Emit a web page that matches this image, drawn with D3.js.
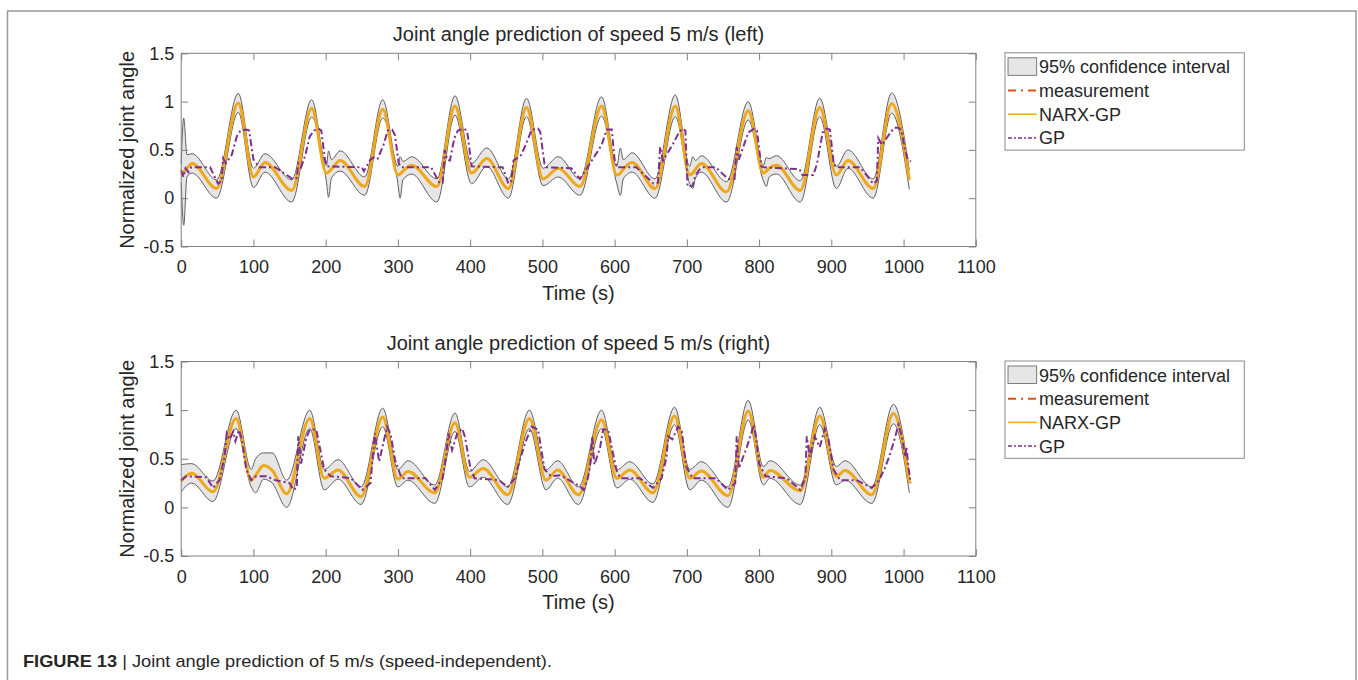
<!DOCTYPE html>
<html>
<head>
<meta charset="utf-8">
<script src="https://cdn.jsdelivr.net/npm/d3@7/dist/d3.min.js"></script>
<style>
  body { margin: 0; background: #fff; }
  svg text { font-family: 'Liberation Sans', Arial, Helvetica, sans-serif; fill: #262626; }
</style>
</head>
<body>
<div id="chart"></div>
<script>
// ---- axis ticks ----
const xTickVals = [0, 100, 200, 300, 400, 500, 600, 700, 800, 900, 1000, 1100];
const yTickVals = [-0.5, 0, 0.5, 1, 1.5];
const legendLabels = ['95% confidence interval', 'measurement', 'NARX-GP', 'GP'];

// ---- left leg: NARX-GP mean and 95% band, read at extrema / spikes ----
const leftT = [0, 3.5, 8, 15, 49, 79, 100, 116, 153, 180.6, 201, 204, 208, 220, 254, 279, 300, 303, 307, 319,
  354, 379, 402, 423, 453, 478, 501, 522, 552, 582, 603, 608, 612, 624, 656, 684, 704, 708, 712, 720,
  755, 785, 806, 810, 814, 824, 857, 884, 907, 923, 958, 983.5, 1008];
const leftNarx = [0.24, 0.27, 0.31, 0.36, 0.1, 0.985, 0.22, 0.37, 0.08, 0.93, 0.26, 0.27, 0.3, 0.39, 0.12, 0.92, 0.24, 0.25, 0.28, 0.34,
  0.12, 0.955, 0.26, 0.41, 0.1, 0.94, 0.2, 0.31, 0.12, 0.955, 0.24, 0.26, 0.3, 0.37, 0.1, 0.955, 0.24, 0.26, 0.3, 0.36,
  0.065, 0.905, 0.26, 0.28, 0.31, 0.34, 0.08, 0.94, 0.24, 0.39, 0.1, 0.98, 0.19];
const leftUpper = [0.36, 0.83, 0.45, 0.46, 0.19, 1.085, 0.31, 0.46, 0.19, 1.02, 0.34, 0.49, 0.4, 0.49, 0.22, 1.02, 0.33, 0.43, 0.38, 0.43,
  0.2, 1.06, 0.36, 0.52, 0.2, 1.035, 0.31, 0.43, 0.2, 1.05, 0.33, 0.52, 0.4, 0.47, 0.2, 1.07, 0.33, 0.43, 0.39, 0.44,
  0.17, 1.0, 0.34, 0.42, 0.41, 0.44, 0.18, 1.035, 0.33, 0.5, 0.2, 1.09, 0.29];
const leftLower = [0.16, -0.28, 0.22, 0.26, 0.0, 0.89, 0.11, 0.27, -0.04, 0.84, 0.17, 0.01, 0.21, 0.28, 0.03, 0.83, 0.15, 0.0, 0.19, 0.25,
  -0.04, 0.86, 0.15, 0.33, 0.0, 0.845, 0.13, 0.22, 0.03, 0.85, 0.15, 0.03, 0.2, 0.27, 0.0, 0.845, 0.15, 0.1, 0.21, 0.27,
  -0.04, 0.81, 0.18, 0.12, 0.22, 0.25, -0.04, 0.845, 0.1, 0.31, 0.0, 0.88, 0.09];
// measurement lies under the NARX-GP line in the picture
const leftMeas = leftNarx;

// ---- left leg: GP ----
const leftGpT = [0, 3, 6, 10, 14, 40, 51, 56, 58, 62, 70, 77, 82, 90, 94, 100, 108, 130, 154, 160, 162, 166, 172, 178, 184, 190, 194, 199, 202,
  250, 253, 262, 268, 272, 280, 286, 292, 296, 301, 305, 346, 358, 362, 365, 368, 372, 378, 383, 392, 396, 402,
  445, 453, 457, 460, 470, 478, 485, 494, 497, 503, 506, 540, 552, 566, 582, 589, 596, 600, 603, 630, 654, 660, 663, 667,
  680, 689, 694, 698, 701, 708, 712, 718, 722, 740, 757, 766, 769, 772, 785, 793, 797, 803, 806, 856, 860, 875, 880, 888,
  893, 898, 903, 906, 940, 958, 963, 965, 970, 980, 987, 993, 997, 1002, 1006, 1010];
const leftGp = [0.29, 0.22, 0.31, 0.27, 0.32, 0.32, 0.15, 0.18, 0.41, 0.36, 0.45, 0.64, 0.7, 0.71, 0.7, 0.4, 0.32, 0.32, 0.2, 0.21, 0.36, 0.32, 0.45, 0.64, 0.7, 0.72, 0.7, 0.4, 0.33,
  0.32, 0.28, 0.4, 0.43, 0.41, 0.55, 0.7, 0.71, 0.65, 0.36, 0.32, 0.32, 0.15, 0.16, 0.5, 0.4, 0.39, 0.62, 0.7, 0.72, 0.69, 0.33,
  0.32, 0.15, 0.18, 0.39, 0.44, 0.57, 0.71, 0.72, 0.69, 0.35, 0.32, 0.31, 0.2, 0.36, 0.55, 0.71, 0.71, 0.4, 0.32, 0.32, 0.15, 0.16, 0.53, 0.39,
  0.55, 0.68, 0.72, 0.7, 0.12, 0.13, 0.24, 0.3, 0.32, 0.32, 0.2, 0.2, 0.53, 0.4, 0.68, 0.72, 0.7, 0.33, 0.32, 0.3, 0.24, 0.24, 0.35, 0.68,
  0.72, 0.71, 0.38, 0.32, 0.32, 0.15, 0.18, 0.62, 0.55, 0.66, 0.73, 0.73, 0.7, 0.5, 0.4, 0.38];

// ---- right leg: NARX-GP mean and 95% band ----
const rightT = [0, 14.5, 44, 76, 97, 103, 114, 126, 146, 178, 198, 217, 249, 279, 300, 314, 351, 379, 399, 418,
  452, 482, 505, 521, 550, 582, 603, 621, 653, 683, 704, 720, 757, 785, 806, 815, 857, 884, 907, 919, 956, 986, 1008];
const rightNarx = [0.27, 0.35, 0.16, 0.915, 0.28, 0.33, 0.43, 0.38, 0.14, 0.915, 0.3, 0.385, 0.11, 0.93, 0.29, 0.37, 0.15, 0.87, 0.31, 0.4,
  0.13, 0.915, 0.28, 0.385, 0.13, 0.9, 0.3, 0.385, 0.15, 0.94, 0.3, 0.375, 0.12, 0.99, 0.31, 0.38, 0.17, 0.94, 0.32, 0.38, 0.13, 0.965, 0.25];
const rightUpper = [0.44, 0.45, 0.27, 1.0, 0.39, 0.5, 0.56, 0.56, 0.28, 1.0, 0.39, 0.49, 0.21, 1.02, 0.39, 0.48, 0.23, 0.97, 0.37, 0.49,
  0.21, 1.0, 0.385, 0.48, 0.21, 1.0, 0.385, 0.47, 0.24, 1.03, 0.39, 0.47, 0.21, 1.1, 0.42, 0.48, 0.23, 1.03, 0.42, 0.48, 0.21, 1.06, 0.32];
const rightLower = [0.16, 0.25, 0.06, 0.81, 0.21, 0.15, 0.29, 0.25, 0.0, 0.81, 0.18, 0.29, 0.03, 0.83, 0.21, 0.28, 0.04, 0.78, 0.21, 0.31,
  0.03, 0.81, 0.18, 0.3, 0.03, 0.81, 0.2, 0.29, 0.05, 0.85, 0.18, 0.28, 0.0, 0.9, 0.23, 0.3, 0.03, 0.85, 0.23, 0.28, 0.04, 0.86, 0.15];
const rightMeas = rightNarx;

// ---- right leg: GP ----
const rightGpT = [0, 7, 35, 44, 53, 60, 63, 67, 72, 75, 80, 84, 90, 97, 104, 118, 130, 150, 155, 160, 162, 166, 173, 178, 187, 198, 207,
  235, 251, 262, 268, 274, 285, 290, 296, 305, 338, 351, 362, 367, 370, 375, 382, 389, 393, 400, 406, 440, 452, 462, 469,
  476, 485, 494, 503, 512, 525, 553, 557, 563, 566, 569, 572, 580, 584, 591, 596, 603, 608, 635, 653, 665, 672, 674, 680,
  688, 693, 699, 708, 740, 757, 767, 769, 772, 783, 793, 796, 800, 809, 838, 857, 864, 866, 870, 877, 884, 891, 896, 903,
  912, 935, 956, 966, 974, 980, 986, 993, 998, 1002, 1004, 1007, 1010];
const rightGp = [0.28, 0.32, 0.31, 0.2, 0.28, 0.52, 0.76, 0.7, 0.78, 0.68, 0.795, 0.7, 0.39, 0.28, 0.32, 0.32, 0.28, 0.25, 0.18, 0.2, 0.73, 0.45, 0.71, 0.8, 0.8, 0.39, 0.32,
  0.3, 0.18, 0.25, 0.76, 0.47, 0.83, 0.75, 0.49, 0.3, 0.3, 0.18, 0.3, 0.55, 0.76, 0.59, 0.76, 0.81, 0.72, 0.42, 0.3, 0.28, 0.21, 0.3, 0.49,
  0.66, 0.83, 0.8, 0.39, 0.32, 0.33, 0.21, 0.18, 0.3, 0.42, 0.73, 0.44, 0.62, 0.8, 0.8, 0.62, 0.37, 0.3, 0.3, 0.2, 0.3, 0.52, 0.73, 0.7,
  0.83, 0.78, 0.42, 0.3, 0.3, 0.18, 0.25, 0.73, 0.4, 0.62, 0.85, 0.7, 0.45, 0.32, 0.3, 0.18, 0.3, 0.73, 0.52, 0.73, 0.62, 0.81, 0.7, 0.39,
  0.28, 0.28, 0.2, 0.28, 0.4, 0.52, 0.66, 0.85, 0.72, 0.52, 0.62, 0.4, 0.25];

const colors = {
  band: '#e6e6e6',
  bandEdge: '#5f5f5f',
  meas: '#d95319',
  narx: '#efa81a',
  gp: '#7e2f8e',
  axis: '#808080',
};

const W = 1358;
const H = 680;

const svg = d3.select('#chart').append('svg').attr('width', W).attr('height', H);

// figure frame (bottom edge runs off the page)
svg.append('path')
  .attr('d', `M7.5,${H} V11 H1356 V${H}`)
  .attr('fill', 'none')
  .attr('stroke', '#999')
  .attr('stroke-width', 1.5);

const makePanel = (cfg) => {
  const g = svg.append('g');
  const x = d3.scaleLinear().domain([0, 1100]).range([181.2, 975.8]);
  const y = d3.scaleLinear().domain([-0.5, 1.5]).range([cfg.bottom, cfg.top]);

  const band = cfg.t.map((t, i) => ({ t, mean: cfg.narx[i], up: cfg.upper[i], lo: cfg.lower[i], meas: cfg.meas[i] }));
  const gp = cfg.gpT.map((t, i) => ({ t, v: cfg.gp[i] }));

  g.append('path')
    .attr('d', d3.area().x((d) => x(d.t)).y0((d) => y(d.lo)).y1((d) => y(d.up)).curve(d3.curveMonotoneX)(band))
    .attr('fill', colors.band);

  ['up', 'lo'].forEach((k) => {
    g.append('path')
      .attr('d', d3.line().x((d) => x(d.t)).y((d) => y(d[k])).curve(d3.curveMonotoneX)(band))
      .attr('fill', 'none')
      .attr('stroke', colors.bandEdge)
      .attr('stroke-width', 1);
  });

  g.append('path')
    .attr('d', d3.line().x((d) => x(d.t)).y((d) => y(d.meas)).curve(d3.curveMonotoneX)(band))
    .attr('fill', 'none')
    .attr('stroke', colors.meas)
    .attr('stroke-width', 1.5)
    .attr('stroke-dasharray', '8,3,2,3');

  g.append('path')
    .attr('d', d3.line().x((d) => x(d.t)).y((d) => y(d.mean)).curve(d3.curveMonotoneX)(band))
    .attr('fill', 'none')
    .attr('stroke', colors.narx)
    .attr('stroke-width', 3);

  g.append('path')
    .attr('d', d3.line().x((d) => x(d.t)).y((d) => y(d.v))(gp))
    .attr('fill', 'none')
    .attr('stroke', colors.gp)
    .attr('stroke-width', 2)
    .attr('stroke-dasharray', '7,3,2,3');

  // axes: ticks point inward, box on all four sides
  const styleAxis = (sel) => {
    sel.select('.domain').remove();
    sel.selectAll('line').attr('stroke', colors.axis);
    sel.selectAll('text').style('font-size', '18px').attr('fill', '#262626');
  };
  g.append('g').attr('transform', `translate(0,${cfg.bottom})`)
    .call(d3.axisBottom(x).tickValues(xTickVals).tickSize(-7).tickPadding(14).tickFormat((d) => d))
    .call(styleAxis);
  g.append('g').attr('transform', `translate(0,${cfg.top})`)
    .call(d3.axisTop(x).tickValues(xTickVals).tickSize(-7).tickFormat(''))
    .call(styleAxis);
  g.append('g').attr('transform', `translate(${x(0)},0)`)
    .call(d3.axisLeft(y).tickValues(yTickVals).tickSize(-7).tickPadding(7).tickFormat((d) => String(d)))
    .call(styleAxis);
  g.append('g').attr('transform', `translate(${x(1100)},0)`)
    .call(d3.axisRight(y).tickValues(yTickVals).tickSize(-7).tickFormat(''))
    .call(styleAxis);
  g.append('rect')
    .attr('x', x(0)).attr('y', cfg.top)
    .attr('width', x(1100) - x(0)).attr('height', cfg.bottom - cfg.top)
    .attr('fill', 'none').attr('stroke', colors.axis).attr('stroke-width', 1);

  g.append('text')
    .attr('x', (x(0) + x(1100)) / 2).attr('y', cfg.top - 12)
    .attr('text-anchor', 'middle').style('font-size', '20px')
    .text(cfg.title);
  g.append('text')
    .attr('x', (x(0) + x(1100)) / 2).attr('y', cfg.bottom + 53)
    .attr('text-anchor', 'middle').style('font-size', '20px')
    .text('Time (s)');
  g.append('text')
    .attr('transform', `translate(134,${(cfg.top + cfg.bottom) / 2}) rotate(-90)`)
    .attr('text-anchor', 'middle').style('font-size', '20px')
    .text('Normalized joint angle');

  // legend
  const lg = g.append('g').attr('transform', `translate(1005,${cfg.top - 0.5})`);
  lg.append('rect').attr('width', 239.3).attr('height', 97.3)
    .attr('fill', '#fff').attr('stroke', '#8a8a8a').attr('stroke-width', 1);
  legendLabels.forEach((lab, i) => {
    const cy = 14 + i * 23.7;
    if (i === 0) {
      lg.append('rect').attr('x', 3).attr('y', cy - 9).attr('width', 28.7).attr('height', 17.5)
        .attr('fill', colors.band).attr('stroke', colors.bandEdge).attr('stroke-width', 0.8);
    } else {
      const st = [null, [colors.meas, '8,5,2,5', 2], [colors.narx, null, 1.5], [colors.gp, '4,2,2,2', 1.5]][i];
      lg.append('line').attr('x1', 3).attr('x2', 31.7).attr('y1', cy).attr('y2', cy)
        .attr('stroke', st[0]).attr('stroke-width', st[2])
        .attr('stroke-dasharray', st[1]);
    }
    lg.append('text').attr('x', 34).attr('y', cy + 6.5).style('font-size', '18px').text(lab);
  });
};

makePanel({
  top: 53.3, bottom: 246.5,
  title: 'Joint angle prediction of speed 5 m/s (left)',
  t: leftT, narx: leftNarx, upper: leftUpper, lower: leftLower, meas: leftMeas,
  gpT: leftGpT, gp: leftGp,
});
makePanel({
  top: 361.5, bottom: 556,
  title: 'Joint angle prediction of speed 5 m/s (right)',
  t: rightT, narx: rightNarx, upper: rightUpper, lower: rightLower, meas: rightMeas,
  gpT: rightGpT, gp: rightGp,
});

// caption
const cap = svg.append('text')
  .attr('x', 23).attr('y', 667)
  .attr('textLength', 529).attr('lengthAdjust', 'spacingAndGlyphs')
  .style('font-family', "'Liberation Sans Narrow', 'Liberation Sans', Arial, sans-serif")
  .style('font-size', '17px');
cap.append('tspan').style('font-weight', 'bold').text('FIGURE 13');
cap.append('tspan').text(' | Joint angle prediction of 5 m/s (speed-independent).');
</script>
</body>
</html>
